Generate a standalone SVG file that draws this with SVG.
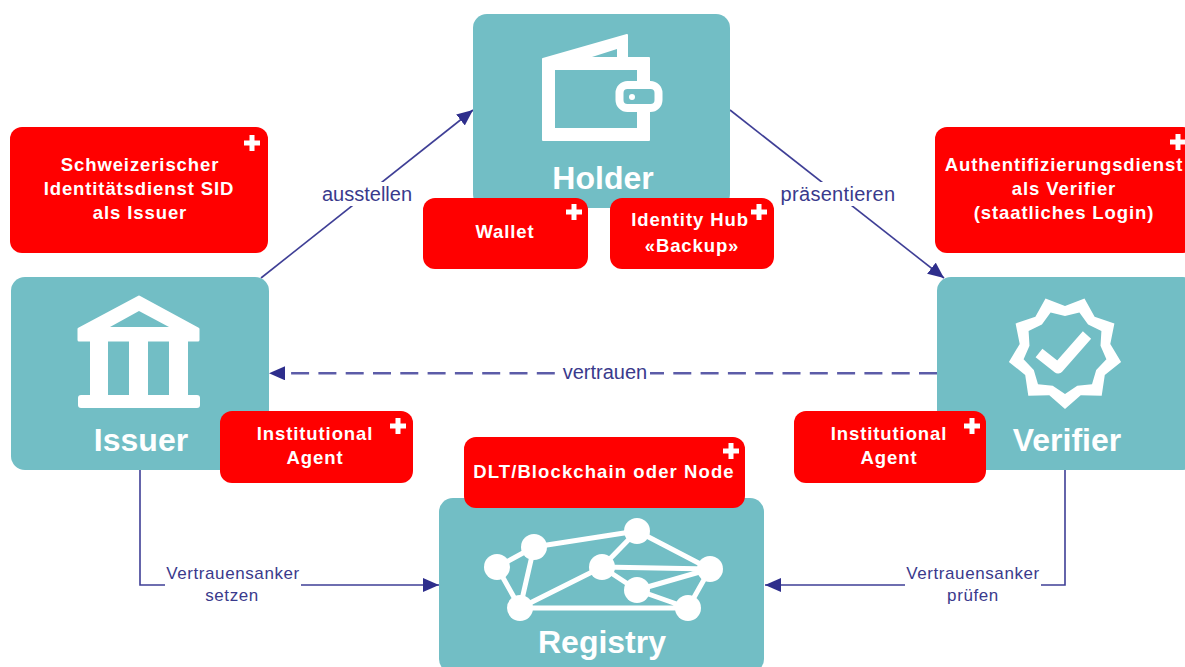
<svg xmlns="http://www.w3.org/2000/svg" width="1185" height="667" viewBox="0 0 1185 667">
<style>
.teal{fill:#72bec5}
.red{fill:#ff0000}
.t{font-family:"Liberation Sans",Arial,sans-serif;text-anchor:middle}
.big{font-size:32px;fill:#fff;font-weight:bold}
.rt{font-size:18.5px;fill:#fff;font-weight:bold;letter-spacing:.9px}
.lab{font-size:20px;fill:#3a3a8c}
.sm{font-size:17px;fill:#3a3a8c;letter-spacing:.6px}
.plus{fill:none;stroke:#fff;stroke-width:5}
.ln{fill:none;stroke:#3f3f96;stroke-width:1.6}
.dash{stroke:#5c5ca8;stroke-width:2.6;stroke-dasharray:18 9.3}
.ic{fill:none;stroke:#fff;stroke-linejoin:round}
</style>
<defs>
<marker id="a" markerWidth="17" markerHeight="14" refX="16" refY="7" orient="auto" markerUnits="userSpaceOnUse"><path d="M0 0L16 7L0 14z" fill="#2e2e8c"/></marker>
<marker id="b" markerWidth="17" markerHeight="14" refX="0" refY="7" orient="auto" markerUnits="userSpaceOnUse"><path d="M0 0L16 7L0 14z" fill="#2e2e8c"/></marker>
<path id="p" class="plus" d="M-8 0H8M0-8V8"/>
</defs>
<rect width="1185" height="667" fill="#fff"/>
<g id="connectors">
<path class="ln" marker-end="url(#a)" d="M261 278L473 110"/>
<path class="ln" marker-end="url(#a)" d="M730 110L944 278"/>
<path class="ln dash" marker-end="url(#b)" d="M937 373.300H285"/>
<path class="ln" marker-end="url(#a)" d="M140 470V585H439"/>
<path class="ln" marker-end="url(#a)" d="M1065 470V585H765"/>
</g>
<g id="holder">
<rect class="teal" x="473" y="14" width="257" height="194" rx="14"/>
<path d="M543 59L627 35V58H649V140H543Z" fill="#fff" stroke="#fff" stroke-width="2" stroke-linejoin="round"/>
<path class="teal" d="M592 57L617 49V57Z"/>
<rect class="teal" x="555" y="70" width="82" height="58"/>
<rect x="619.500" y="85" width="39" height="23" rx="8" class="teal" stroke="#fff" stroke-width="8"/>
<circle cx="632" cy="97" r="3" fill="#fff"/>
<text class="t big" x="603" y="189">Holder</text>
</g>
<g id="issuer">
<rect class="teal" x="11" y="277" width="258" height="193" rx="14"/>
<path d="M139 297L198 329V340H79V329Z" fill="#fff" stroke="#fff" stroke-width="3" stroke-linejoin="round"/>
<path class="teal" d="M139 311L169 327H110Z"/>
<rect x="90" y="340" width="18" height="56" fill="#fff"/>
<rect x="129" y="340" width="19" height="56" fill="#fff"/>
<rect x="169" y="340" width="19" height="56" fill="#fff"/>
<rect x="78" y="395" width="122" height="13" rx="3" fill="#fff"/>
<text class="t big" x="141" y="451">Issuer</text>
</g>
<g id="verifier">
<rect class="teal" x="937" y="277" width="260" height="193" rx="14"/>
<path fill="#fff" fill-rule="evenodd" d="M1065 409L1049.300 395.200L1028.300 395.700L1025.200 375L1008.900 361.900L1019.700 344L1015.600 323.500L1035.400 316.800L1045.500 298.400L1065 306L1084.500 298.400L1094.600 316.800L1114.400 323.500L1110.300 344L1121.100 361.900L1104.800 375L1101.700 395.700L1080.700 395.200ZM1065 394L1077.300 385.800L1092 384.200L1096.200 370L1106.400 359.300L1100.500 345.700L1101.400 331L1088.100 324.400L1079.400 312.500L1065 316L1050.600 312.500L1041.900 324.400L1028.600 331L1029.500 345.700L1023.600 359.300L1033.800 370L1038 384.200L1052.700 385.800Z"/>
<path class="ic" stroke-width="11" stroke-linejoin="miter" d="M1039 353L1058 368L1087 335"/>
<text class="t big" x="1067" y="451">Verifier</text>
</g>
<g id="registry">
<rect class="teal" x="439" y="498" width="325" height="175" rx="14"/>
<path d="M497 567L534 547L520 608ZM534 547L637 531L602 567L520 608H688L710 569L637 531M602 567L710 569L637 590L688 608M602 567L637 590" class="ic" stroke-width="5"/>
<g fill="#fff"><circle cx="497" cy="567" r="13"/><circle cx="534" cy="547" r="13"/><circle cx="637" cy="531" r="13"/><circle cx="602" cy="567" r="13"/><circle cx="710" cy="569" r="13"/><circle cx="637" cy="590" r="13"/><circle cx="520" cy="608" r="13"/><circle cx="688" cy="608" r="13"/></g>
<text class="t big" x="602" y="653">Registry</text>
</g>
<g id="sid"><rect class="red" x="10" y="127" width="258" height="126" rx="12"/><use href="#p" x="252" y="143"/><text class="t rt" x="140" y="171">Schweizerischer</text><text class="t rt" x="139" y="195">Identitätsdienst SID</text><text class="t rt" x="140" y="219">als Issuer</text></g>
<g id="wallet"><rect class="red" x="423" y="198" width="165" height="71" rx="12"/><use href="#p" x="574" y="212"/><text class="t rt" x="505" y="238">Wallet</text></g>
<g id="hub"><rect class="red" x="610" y="198" width="164" height="71" rx="12"/><use href="#p" x="759" y="212"/><text class="t rt" x="690" y="226">Identity Hub</text><text class="t rt" x="692" y="252">«Backup»</text></g>
<g id="auth"><rect class="red" x="935" y="127" width="260" height="126" rx="12"/><use href="#p" x="1178" y="142"/><text class="t rt" x="1064" y="171">Authentifizierungsdienst</text><text class="t rt" x="1064" y="195">als Verifier</text><text class="t rt" x="1064" y="219">(staatliches Login)</text></g>
<g id="agent1"><rect class="red" x="220" y="411" width="193" height="72" rx="12"/><use href="#p" x="398" y="426"/><text class="t rt" x="315" y="440">Institutional</text><text class="t rt" x="315" y="464">Agent</text></g>
<g id="agent2"><rect class="red" x="794" y="411" width="192" height="72" rx="12"/><use href="#p" x="972" y="426"/><text class="t rt" x="889" y="440">Institutional</text><text class="t rt" x="889" y="464">Agent</text></g>
<g id="dlt"><rect class="red" x="464" y="437" width="281" height="71" rx="12"/><use href="#p" x="731" y="451"/><text class="t rt" x="604" y="478" style="letter-spacing:1.1px">DLT/Blockchain oder Node</text></g>
<g id="labels">
<rect x="320" y="182" width="94" height="24" fill="#fff"/><text class="t lab" x="367" y="201">ausstellen</text>
<rect x="780" y="182" width="116" height="24" fill="#fff"/><text class="t lab" x="838" y="201" style="letter-spacing:.3px">präsentieren</text>
<rect x="558" y="362" width="92" height="22" fill="#fff"/><text class="t lab" x="605" y="379">vertrauen</text>
<rect x="165" y="563" width="136" height="42" fill="#fff"/><text class="t sm" x="233" y="579">Vertrauensanker</text><text class="t sm" x="232" y="601">setzen</text>
<rect x="905" y="563" width="136" height="42" fill="#fff"/><text class="t sm" x="973" y="579">Vertrauensanker</text><text class="t sm" x="973" y="601">prüfen</text>
</g>
</svg>
